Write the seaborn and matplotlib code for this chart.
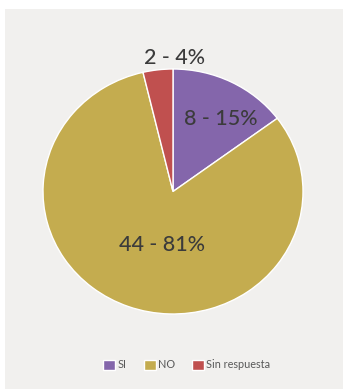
import numpy as np
import matplotlib
matplotlib.use("Agg")
import matplotlib.pyplot as plt
from matplotlib.patches import Rectangle
import seaborn as sns

# data
categories = ["SI", "NO", "Sin respuesta"]
counts = [8, 44, 2]
pct_labels = ["15%", "81%", "4%"]

colors = ["#8466ab", "#c4ac4f", "#c0504f"]
label_radius = [0.70, 0.43, 1.10]
label_shift = [(7, -4), (8, -4), (18, 0)]   # pixel nudges for the labels

sns.set_theme(style="white")
plt.rcParams["font.family"] = ["Lato", "DejaVu Sans"]

fig = plt.figure(figsize=(3.43, 3.89), dpi=100, facecolor="white")
# grey panel (the screenshot has a thin white strip at top and left)
fig.patches.append(Rectangle((5 / 343, 0), 1, 1 - 9 / 389, transform=fig.transFigure,
                             facecolor="#f1f0ee", edgecolor="none", zorder=-10))

ax = fig.add_axes([43 / 343, 1 - 314 / 389, 260 / 343, 245 / 389])
ax.set_zorder(1)
wedges, _ = ax.pie(counts, colors=colors, startangle=90, counterclock=False,
                   wedgeprops=dict(edgecolor="white", linewidth=1, clip_on=False))
ax.set_aspect("auto")
ax.set_xlim(-1, 1)
ax.set_ylim(-1, 1)
ax.axis("off")

for w, n, p, r, (dx, dy) in zip(wedges, counts, pct_labels, label_radius, label_shift):
    mid = np.deg2rad((w.theta1 + w.theta2) / 2)
    ax.annotate(f"{n} - {p}", xy=(r * np.cos(mid), r * np.sin(mid)),
                xytext=(dx, dy), textcoords="offset pixels", annotation_clip=False,
                ha="center", va="center", fontsize=15.5, fontweight="medium",
                color="#3b3b3b")

leg = fig.legend(wedges, categories, loc="center", bbox_to_anchor=(187 / 343, 1 - 365 / 389),
                 ncol=3, frameon=False, fontsize=7.8, labelcolor="#595959",
                 handlelength=1.1, handleheight=1.0, handletextpad=0.2, columnspacing=1.6)
leg.set_zorder(2)

fig.savefig("out.png", dpi=100, facecolor=fig.get_facecolor())
